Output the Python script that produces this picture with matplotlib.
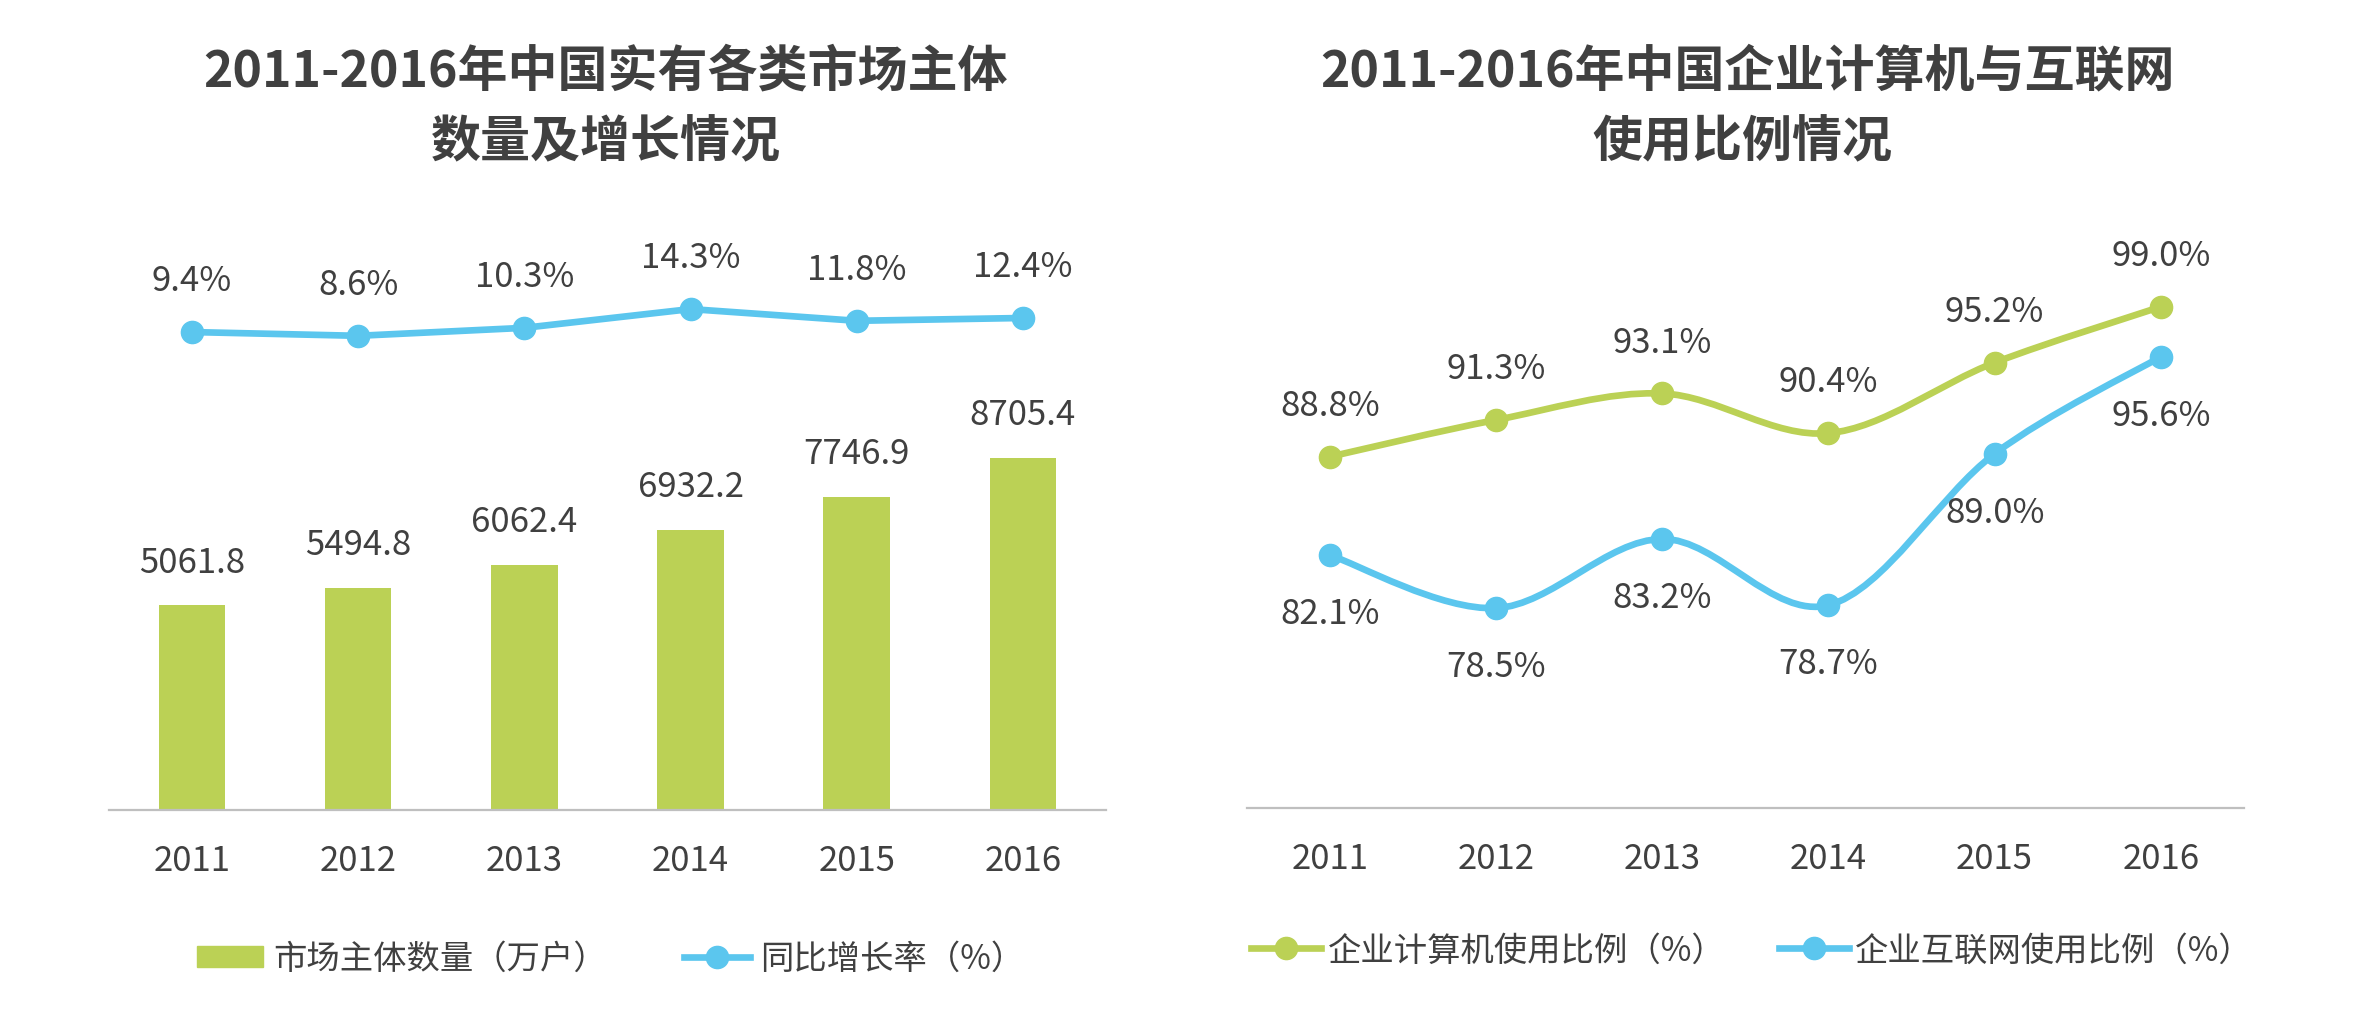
import matplotlib
matplotlib.use("Agg")
import matplotlib.pyplot as plt
from matplotlib.path import Path
from matplotlib.patches import PathPatch
from matplotlib.lines import Line2D
import numpy as np

plt.rcParams['font.family'] = ['Noto Sans CJK SC', 'DejaVu Sans']

# 数据
years = ['2011', '2012', '2013', '2014', '2015', '2016']
market_count = [5061.8, 5494.8, 6062.4, 6932.2, 7746.9, 8705.4]   # 万户
market_growth = [9.4, 8.6, 10.3, 14.3, 11.8, 12.4]               # %
computer_ratio = [88.8, 91.3, 93.1, 90.4, 95.2, 99.0]            # %
internet_ratio = [82.1, 78.5, 83.2, 78.7, 89.0, 95.6]            # %

GREEN = '#BBD155'
BLUE = '#5BC6EE'
TEXT = '#404040'
AXIS = '#BFBFBF'


# 平滑曲线（类似 Excel 的平滑线），用贝塞尔控制点
def smooth_path(xs, ys):
    pts = np.column_stack([xs, ys]).astype(float)
    n = len(pts)
    verts = [pts[0]]
    codes = [Path.MOVETO]
    for i in range(n - 1):
        p0 = pts[i - 1] if i > 0 else pts[i]
        p1 = pts[i]
        p2 = pts[i + 1]
        p3 = pts[i + 2] if i + 2 < n else pts[i + 1]
        c1 = p1 + (p2 - p0) / 6.0
        c2 = p2 - (p3 - p1) / 6.0
        verts += [c1, c2, p2]
        codes += [Path.CURVE4] * 3
    return Path(verts, codes)


fig = plt.figure(figsize=(23.58, 10.12), dpi=100)
x = np.arange(len(years))

# ---------- 左图 ----------
ax1 = fig.add_axes([0.0462, 0.1986, 0.4228, 0.5534])
ax1.bar(x, market_count, width=0.4, color=GREEN, zorder=2)
ax1.set_xlim(-0.5, 5.5)
ax1.set_ylim(0, 13850)
for xi, v in zip(x, market_count):
    ax1.annotate(f'{v:.1f}', (xi, v), xytext=(0, 31), textcoords='offset points',
                 ha='center', va='center', fontsize=25, color=TEXT)

ax1b = ax1.twinx()
ax1b.plot(x, market_growth, color=BLUE, lw=4.8, marker='o', ms=16, zorder=3)
ax1b.set_ylim(-92.5, 26.9)
for xi, v in zip(x, market_growth):
    ax1b.annotate(f'{v:.1f}%', (xi, v), xytext=(0, 37), textcoords='offset points',
                  ha='center', va='center', fontsize=25, color=TEXT)

# ---------- 右图 ----------
ax2 = fig.add_axes([0.5288, 0.2006, 0.4228, 0.5534])
ax2.set_xlim(-0.5, 5.5)
ax2.set_ylim(64.9, 103.0)
for vals, col in [(computer_ratio, GREEN), (internet_ratio, BLUE)]:
    ax2.add_patch(PathPatch(smooth_path(x, vals), fill=False, edgecolor=col,
                            lw=4.8, capstyle='round', zorder=2))
    ax2.plot(x, vals, ls='none', marker='o', ms=16, color=col, zorder=3)
for xi, v in zip(x, computer_ratio):
    ax2.annotate(f'{v:.1f}%', (xi, v), xytext=(0, 37), textcoords='offset points',
                 ha='center', va='center', fontsize=25, color=TEXT)
for xi, v in zip(x, internet_ratio):
    ax2.annotate(f'{v:.1f}%', (xi, v), xytext=(0, -42), textcoords='offset points',
                 ha='center', va='center', fontsize=25, color=TEXT)

# 坐标轴样式
for ax in (ax1, ax1b, ax2):
    for s in ('top', 'right', 'left'):
        ax.spines[s].set_visible(False)
    ax.spines['bottom'].set_visible(ax is not ax1b)
    ax.spines['bottom'].set_color(AXIS)
    ax.spines['bottom'].set_linewidth(1.6)
    ax.set_yticks([])
for ax in (ax1, ax2):
    ax.set_xticks(x)
    ax.set_xticklabels(years)
    ax.tick_params(axis='x', length=0, pad=24, labelsize=25, labelcolor=TEXT)

# 标题
title_kw = dict(ha='center', va='center', fontsize=36, fontweight='bold', color=TEXT)
fig.text(0.257, 0.929, '2011-2016年中国实有各类市场主体', **title_kw)
fig.text(0.257, 0.859, '数量及增长情况', **title_kw)
fig.text(0.741, 0.929, '2011-2016年中国企业计算机与互联网', **title_kw)
fig.text(0.739, 0.859, '使用比例情况', **title_kw)

# 图例
h1 = [plt.Rectangle((0, 0), 1, 1, color=GREEN),
      Line2D([], [], color=BLUE, lw=4.8, marker='o', ms=16)]
fig.legend(h1, ['市场主体数量（万户）', '同比增长率（%）'], loc='center',
           bbox_to_anchor=(0.259, 0.052), ncol=2, frameon=False, fontsize=24,
           handlelength=2.0, handleheight=0.6, handletextpad=0.3, columnspacing=2.3,
           labelcolor=TEXT)
h2 = [Line2D([], [], color=GREEN, lw=4.8, marker='o', ms=16),
      Line2D([], [], color=BLUE, lw=4.8, marker='o', ms=16)]
fig.legend(h2, ['企业计算机使用比例（%）', '企业互联网使用比例（%）'], loc='center',
           bbox_to_anchor=(0.743, 0.060), ncol=2, frameon=False, fontsize=24,
           handlelength=2.1, handletextpad=0.2, columnspacing=1.6,
           labelcolor=TEXT)

fig.savefig('out.png', dpi=100, facecolor='white')
